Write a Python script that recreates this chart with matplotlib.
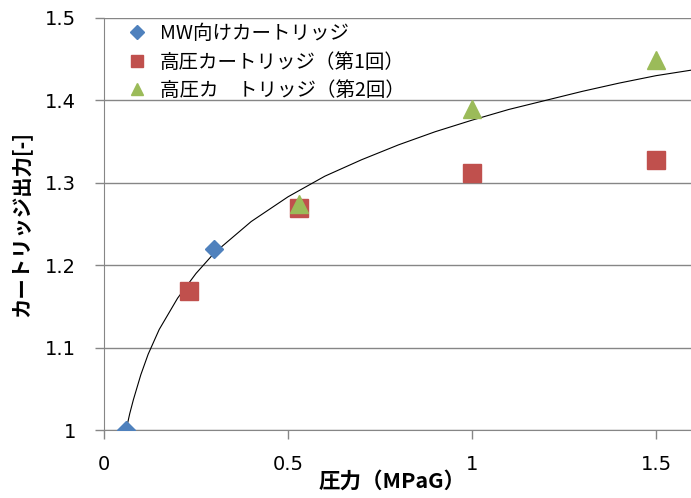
import matplotlib
matplotlib.use("Agg")
from matplotlib import pyplot as plt

plt.rcParams['font.family'] = ['Noto Sans CJK JP', 'DejaVu Sans']

# measured points
mw_x = [0.06, 0.3]
mw_y = [1.0, 1.22]
hp1_x = [0.23, 0.53, 1.0, 1.5]
hp1_y = [1.169, 1.269, 1.312, 1.328]
hp2_x = [0.53, 1.0, 1.5]
hp2_y = [1.274, 1.39, 1.449]

# trend curve
curve_x = [0.06, 0.07, 0.08, 0.1, 0.12, 0.15, 0.2, 0.25, 0.3, 0.4, 0.5, 0.6,
           0.7, 0.8, 0.9, 1.0, 1.1, 1.2, 1.3, 1.4, 1.5, 1.6]
curve_y = [1.0, 1.02, 1.037, 1.067, 1.092, 1.122, 1.16, 1.19, 1.215, 1.253,
           1.283, 1.308, 1.328, 1.346, 1.362, 1.376, 1.389, 1.4, 1.411, 1.421,
           1.43, 1.437]

labels = ['MW向けカートリッジ', '高圧カートリッジ（第1回）', '高圧カ\u3000トリッジ（第2回）']
x_ticks = [0, 0.5, 1, 1.5]
x_labels = ['0', '0.5', '1', '1.5']
y_ticks = [1, 1.1, 1.2, 1.3, 1.4, 1.5]
y_labels = ['1', '1.1', '1.2', '1.3', '1.4', '1.5']

fig = plt.figure(figsize=(6.91, 4.98), dpi=100)
ax = fig.add_axes([0.1505, 0.1365, 0.8495, 0.8274])

ax.plot(curve_x, curve_y, color='black', lw=0.8, zorder=2)
ax.plot(mw_x, mw_y, 'D', color='#4F81BD', ms=9.5, ls='none', label=labels[0], zorder=3)
ax.plot(hp1_x, hp1_y, 's', color='#C0504D', ms=13, ls='none', label=labels[1], zorder=3)
ax.plot(hp2_x, hp2_y, '^', color='#9BBB59', ms=12.5, ls='none', label=labels[2], zorder=4)

ax.set_xlim(0, 1.595)
ax.set_ylim(1, 1.5)
ax.set_xticks(x_ticks)
ax.set_xticklabels(x_labels, fontfamily='DejaVu Sans')
ax.set_yticks(y_ticks)
ax.set_yticklabels(y_labels, fontfamily='DejaVu Sans')
ax.tick_params(axis='both', labelsize=14, colors='#868686', labelcolor='black',
               length=6.5, width=1, direction='out')
ax.tick_params(axis='x', pad=11.5)
ax.tick_params(axis='y', pad=13.5)
ax.yaxis.grid(True, color='#868686', lw=1)
ax.set_axisbelow(True)
for s in ['top', 'right']:
    ax.spines[s].set_visible(False)
for s in ['left', 'bottom']:
    ax.spines[s].set_color('#868686')

ax.set_xlabel('圧力（MPaG）', fontsize=15.5, fontweight='bold')
ax.xaxis.set_label_coords(0.49, -0.098)
ax.set_ylabel('カートリッジ出力[-]', fontsize=14.7, fontweight='bold')
ax.yaxis.set_label_coords(-0.124, 0.5)

leg = ax.legend(loc='upper left', bbox_to_anchor=(0.023, 1.006), fontsize=14,
                frameon=False, handlelength=1.2, handletextpad=0.58,
                labelspacing=0.38, borderaxespad=0, markerscale=0.7)

plt.savefig('out.png', dpi=100)
